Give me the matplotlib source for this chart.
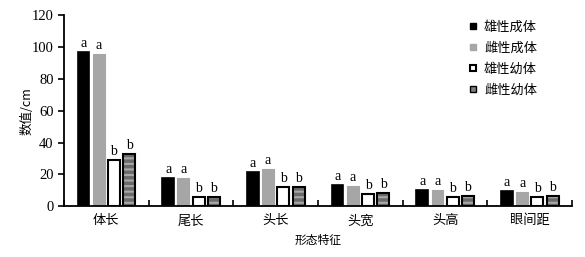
import numpy as np
import matplotlib.pyplot as plt
from matplotlib.lines import Line2D

plt.rcParams['font.family'] = ['Liberation Serif', 'Noto Sans CJK SC']

categories = ['体长', '尾长', '头长', '头宽', '头高', '眼间距']
series = ['雄性成体', '雌性成体', '雄性幼体', '雌性幼体']
male_adult = [96.8, 17.4, 21.2, 13.2, 9.9, 9.2]
female_adult = [95.7, 17.6, 23.1, 12.8, 10.3, 9.0]
male_juv = [29.2, 5.5, 12.0, 7.3, 5.9, 5.9]
female_juv = [32.7, 5.5, 12.0, 8.4, 6.1, 6.1]
letters = ['a', 'a', 'b', 'b']

values = [male_adult, female_adult, male_juv, female_juv]
cjk = ['Noto Sans CJK SC', 'DejaVu Sans']

fig = plt.figure(figsize=(5.85, 2.57), dpi=100)
ax = fig.add_axes([0.1094, 0.1984, 0.8686, 0.7413])

x = np.arange(len(categories))
pitch = 0.18
width = 0.14
for i, vals in enumerate(values):
    pos = x + (i - 1.5) * pitch
    if i == 0:
        ax.bar(pos, vals, width, color='black', edgecolor='black', linewidth=1.2)
    elif i == 1:
        ax.bar(pos, vals, width, color='#a6a6a6', edgecolor='#a6a6a6', linewidth=0.8)
    elif i == 2:
        ax.bar(pos, vals, width, color='white', edgecolor='black', linewidth=1.5)
    else:
        plt.rcParams['hatch.linewidth'] = 1.5
        ax.bar(pos, vals, width, color='#6a6a6a', edgecolor='#a8a8a8', hatch='---', linewidth=0)
        ax.bar(pos, vals, width, fill=False, edgecolor='black', linewidth=1.5)
    for p, v in zip(pos, vals):
        ax.annotate(letters[i], (p, v), xytext=(0, 1.5), textcoords='offset points',
                    ha='center', va='bottom', fontsize=10)

ax.set_xlim(-0.5, 5.5)
ax.set_ylim(0, 120)
ax.set_yticks(np.arange(0, 121, 20))
ax.set_xticks(x)
ax.set_xticklabels(categories, family=cjk, fontsize=9.5)
ax.set_xticks(np.arange(-0.5, 6, 1), minor=True)
ax.tick_params(axis='x', which='major', length=0, pad=6)
ax.tick_params(axis='x', which='minor', direction='in', length=4, width=1.2)
ax.tick_params(axis='y', direction='out', length=4, width=1.2, labelsize=10.5)
for s in ['top', 'right']:
    ax.spines[s].set_visible(False)
for s in ['left', 'bottom']:
    ax.spines[s].set_linewidth(1.3)

ax.set_ylabel('数值/cm', family=cjk, fontsize=9, labelpad=-1)
ax.set_xlabel('形态特征', family=cjk, fontsize=8.5, labelpad=5)

handles = [
    Line2D([], [], ls='', marker='s', ms=4, mfc='black', mec='black'),
    Line2D([], [], ls='', marker='s', ms=4, mfc='#a6a6a6', mec='#a6a6a6'),
    Line2D([], [], ls='', marker='s', ms=4.5, mfc='white', mec='black', mew=1.5),
    Line2D([], [], ls='', marker='s', ms=4.5, mfc='#808080', mec='black', mew=1),
]
fig.legend(handles, series, loc='upper left', bbox_to_anchor=(455 / 585, 1 - 9 / 257),
           frameon=False, prop={'family': cjk, 'size': 9.5}, handlelength=1,
           handletextpad=0.3, labelspacing=0.6)

fig.savefig('out.png', dpi=100)
